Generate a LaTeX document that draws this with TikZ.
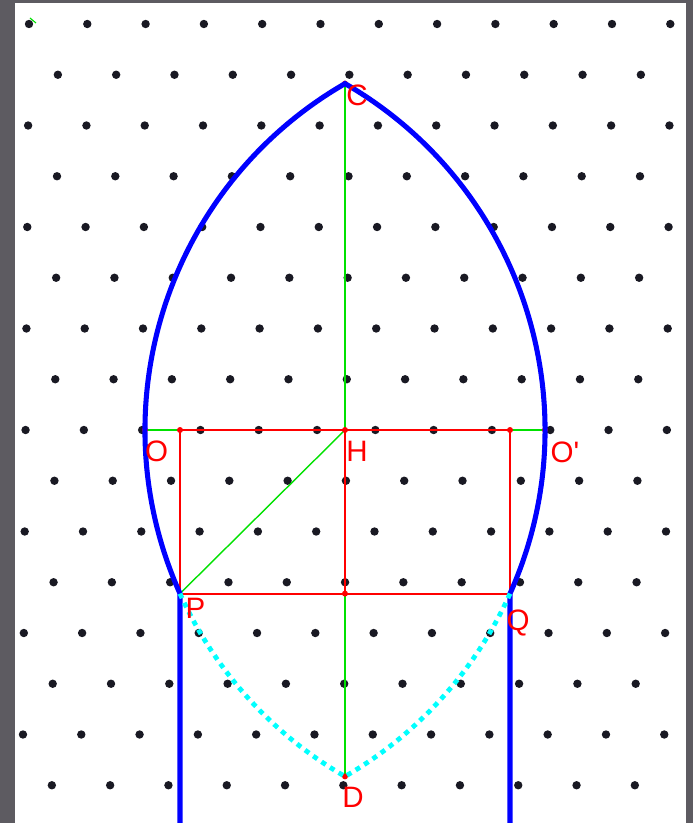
\documentclass[tikz,border=0pt]{standalone}
\usepackage{fontspec}
\setmainfont{Liberation Sans}
\definecolor{lgreen}{RGB}{0,225,0}
\definecolor{lcyan}{RGB}{0,255,255}
\definecolor{framegray}{RGB}{93,91,97}
\definecolor{dotc}{RGB}{25,25,35}
\begin{document}
\begin{tikzpicture}[x=2.5cm,y=2.5cm,
  lbl/.style={text=red,inner sep=0pt,font=\fontsize{21}{21}\selectfont},
  grn/.style={draw=lgreen,line width=1pt},
  rd/.style={draw=red,line width=1.5pt},
  arch/.style={draw=blue,line width=3.6pt},
  lowarc/.style={draw=lcyan,line width=3.4pt,dash pattern=on 3.6pt off 3.6pt}]

% cadre et fond
\useasboundingbox (-3.45,-3.93) rectangle (3.48,4.30);
\fill[framegray] (-3.45,-3.93) rectangle (3.48,4.30);
\fill[white] (-3.30,-3.93) rectangle (3.41,4.27);

% réseau de points (triangulaire)
\begin{scope}
\clip (-3.30,-3.93) rectangle (3.41,4.27);
\foreach \k in {0,...,15}{
  \foreach \i in {0,...,11}{
    \pgfmathsetmacro{\dx}{(29+mod(\k,2)*29.3-0.43*\k+58.3*\i-345)/100}
    \pgfmathsetmacro{\dy}{(430-24-50.75*\k)/100}
    \fill[dotc] (\dx,\dy) circle (0.042);
  }
}
\end{scope}
\draw[lgreen,line width=0.8pt] (-3.15,4.12) -- (-3.09,4.07);

% points
\coordinate (H) at (0,0);
\coordinate (O) at (-2,0);
\coordinate (O') at (2,0);
\coordinate (C) at (0,3.464);
\coordinate (D) at (0,-3.464);
\coordinate (P) at (-1.65,-1.636);
\coordinate (Q) at (1.65,-1.636);
\coordinate (A) at (-1.65,0);
\coordinate (B) at (1.65,0);
\coordinate (M) at (0,-1.636);
\coordinate (Pb) at (-1.65,-4);
\coordinate (Qb) at (1.65,-4);

% constructions vertes
\draw[grn] (C) -- (D);
\draw[grn] (H) -- (P);
\draw[grn] (O) -- (A);
\draw[grn] (B) -- (O');

% rectangle rouge
\draw[rd] (A) -- (B) -- (Q) -- (P) -- cycle;
\draw[rd] (H) -- (M);
\foreach \p in {A,B,H,M,O,O',C,D}
  \fill[red] (\p) circle (0.03);

% ogive
\draw[arch,line join=miter] (Pb) -- (P)
  arc[start angle=204.14,end angle=120,radius=4]
  arc[start angle=60,end angle=-24.14,radius=4] -- (Qb);
\draw[lowarc] (P) arc[start angle=204.14,end angle=240,radius=4];
\draw[lowarc] (Q) arc[start angle=-24.14,end angle=-60,radius=4];

% étiquettes
\node[lbl] (lC) at (0.12,3.345) {C};
\node[lbl] (lO) at (-1.885,-0.21) {O};
\node[lbl] (lH) at (0.12,-0.21) {H};
\node[lbl] (lO') at (2.20,-0.22) {O\textquotesingle};
\node[lbl] (lP) at (-1.495,-1.785) {P};
\node[lbl] (lQ) at (1.73,-1.93) {Q};
\node[lbl] (lD) at (0.08,-3.67) {D};

\end{tikzpicture}
\end{document}
